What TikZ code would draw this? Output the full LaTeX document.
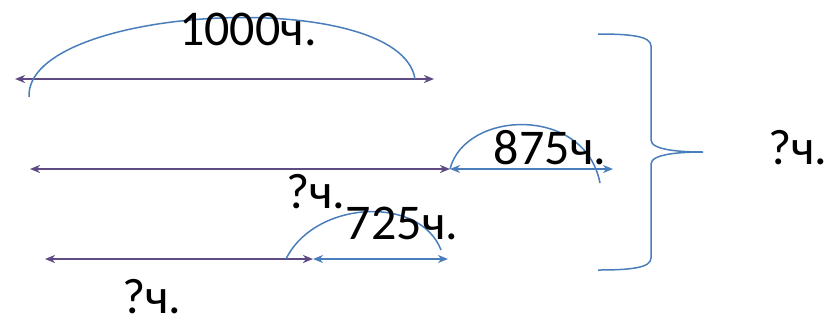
\documentclass[tikz,border=0pt]{standalone}
\usepackage{fontspec}
\setmainfont{Carlito}
\usetikzlibrary{arrows.meta}
\definecolor{segpurple}{HTML}{5F4B83}
\definecolor{segblue}{HTML}{4A7EBB}
\tikzset{
  seg/.style={segpurple, line width=1.8pt, {Stealth[length=10pt,width=8pt,inset=3pt]}-{Stealth[length=10pt,width=8pt,inset=3pt]}},
  part/.style={segblue, line width=1.5pt, {Stealth[length=10pt,width=8pt,inset=3pt]}-{Stealth[length=10pt,width=8pt,inset=3pt]}},
  arc/.style={segblue, line width=1.5pt},
  lbl/.style={inner sep=0pt, font=\fontsize{50}{54}\selectfont}
}
\begin{document}
\begin{tikzpicture}[x=1pt,y=-1pt]
\useasboundingbox (0,0) rectangle (836,325);
% first day
\coordinate (a1) at (15,79);
\coordinate (b1) at (434,79);
\draw[seg] (a1) -- (b1);
\draw[arc] (29,97) .. controls (25,5) and (400,-15) .. (415,79);
\node[lbl] (t1) at (248,29) {1000ч.};
% second day
\coordinate (a2) at (30,169);
\coordinate (m2) at (450,169);
\coordinate (b2) at (613,169);
\draw[seg] (a2) -- (m2);
\draw[part] (m2) -- (b2);
\draw[arc] (m2) .. controls (465,110) and (585,105) .. (600,183);
\node[lbl] (t2) at (550,148) {875ч.};
\node[lbl] (q2) at (316,192) {?ч.};
% third day
\coordinate (a3) at (45,259);
\coordinate (m3) at (313,259);
\coordinate (b3) at (448,259);
\draw[seg] (a3) -- (m3);
\draw[part] (m3) -- (b3);
\draw[arc] (286,259) .. controls (315,200) and (420,195) .. (441,250);
\node[lbl] (t3) at (402,223) {725ч.};
\node[lbl] (q3) at (152,297) {?ч.};
% brace
\draw[arc] (598,34) .. controls (630,34) and (651,36) .. (651,46) -- (651,140)
  .. controls (651,150) and (680,152) .. (703,152)
  .. controls (680,152) and (651,154) .. (651,164) -- (651,258)
  .. controls (651,268) and (630,270) .. (598,270);
\node[lbl] (q) at (798,148) {?ч.};
\end{tikzpicture}
\end{document}
